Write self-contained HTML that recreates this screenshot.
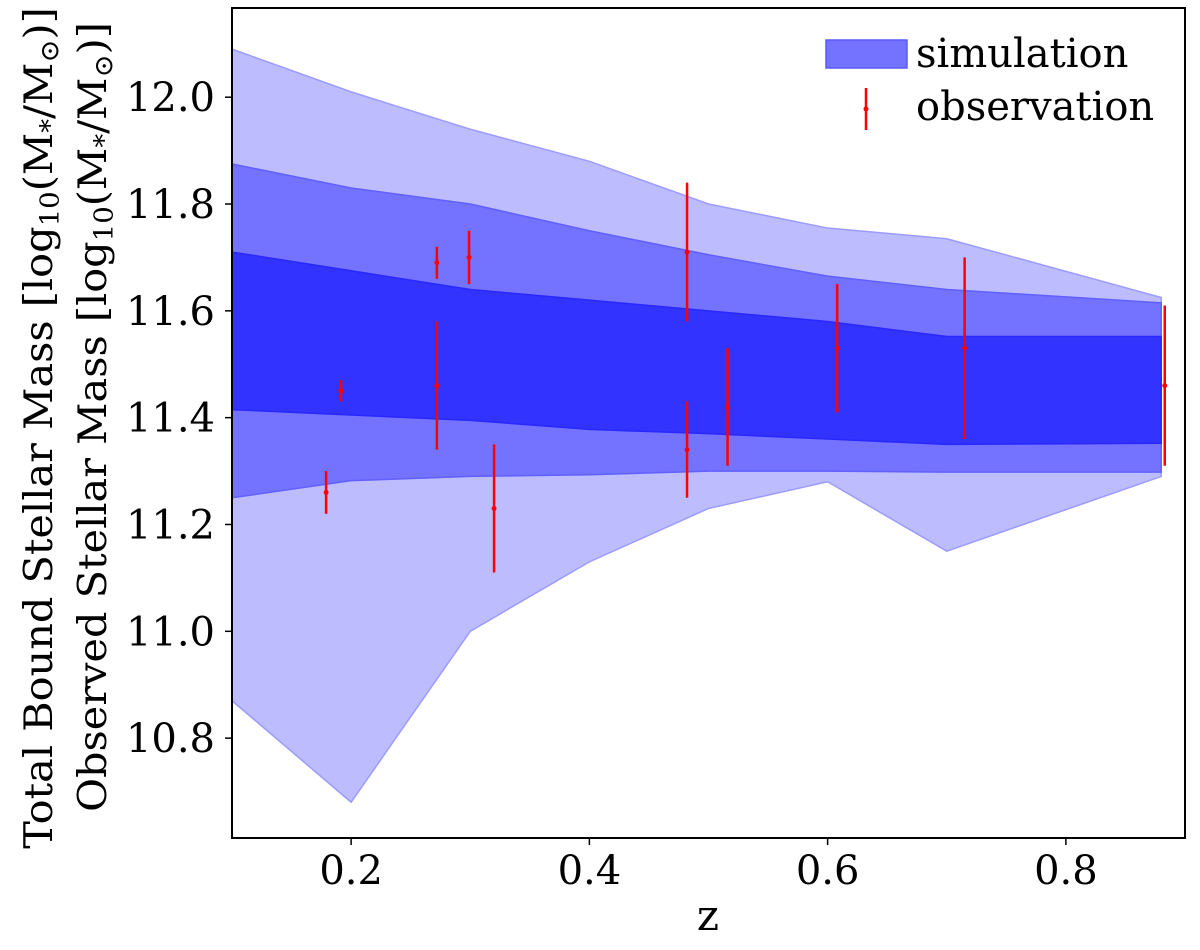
<!DOCTYPE html>
<html><head><meta charset="utf-8"><style>
body{margin:0;background:#fff}
svg text{font-family:"DejaVu Serif","Liberation Serif",serif}
</style></head><body>
<svg id="c" width="1200" height="945" xmlns="http://www.w3.org/2000/svg"></svg>
<script>
const bandZ=[0.1,0.2,0.3,0.4,0.5,0.6,0.7,0.88];
const outerHi=[12.09,12.01,11.94,11.88,11.80,11.755,11.735,11.625];
const outerLo=[10.87,10.68,11.00,11.13,11.23,11.28,11.15,11.29];
const midHi=[11.875,11.83,11.80,11.75,11.705,11.665,11.64,11.615];
const midLo=[11.25,11.282,11.29,11.293,11.30,11.30,11.298,11.298];
const inHi=[11.71,11.675,11.64,11.62,11.60,11.58,11.552,11.552];
const inLo=[11.415,11.405,11.395,11.378,11.37,11.36,11.35,11.352];
const obsZ=[0.179,0.1915,0.272,0.272,0.299,0.32,0.482,0.482,0.516,0.608,0.715,0.883];
const obsY=[11.26,11.45,11.69,11.46,11.70,11.23,11.71,11.34,11.42,11.53,11.53,11.46];
const obsErr=[0.04,0.02,0.03,0.12,0.05,0.12,0.13,0.09,0.11,0.12,0.17,0.15];
const xTicks=[0.2,0.4,0.6,0.8];
const yTicks=[10.8,11.0,11.2,11.4,11.6,11.8,12.0];
const L=232,R=1185,T=8,B=838,X0=0.1,X1=0.9,Y0=10.613,Y1=12.167;
const sx=v=>L+(v-X0)/(X1-X0)*(R-L), sy=v=>B-(v-Y0)/(Y1-Y0)*(B-T);
const svg=document.getElementById('c'),NS='http://www.w3.org/2000/svg';
function mk(t,a,p){const e=document.createElementNS(NS,t);for(const k in a)e.setAttribute(k,a[k]);(p||svg).appendChild(e);return e;}
function band(hi,lo,name,fill,edge){
 let pts=bandZ.map((z,i)=>sx(z)+','+sy(hi[i]));
 pts=pts.concat(bandZ.map((z,i)=>sx(z)+','+sy(lo[i])).reverse());
 const p=mk('polygon',{points:pts.join(' '),fill:fill,stroke:edge,'stroke-width':1.5});
 
 
}
band(outerHi,outerLo,'band-outer','#bcbcff','#9c9cff');
band(midHi,midLo,'band-middle','#7373ff','#6060ff');
band(inHi,inLo,'band-inner','#3333ff','#2828ff');
obsZ.forEach((z,i)=>{
 const g=mk('g',{});
 
 
 mk('line',{x1:sx(z),x2:sx(z),y1:sy(obsY[i]-obsErr[i]),y2:sy(obsY[i]+obsErr[i]),stroke:'#f00','stroke-width':2.5},g);
 mk('circle',{cx:sx(z),cy:sy(obsY[i]),r:2.5,fill:'#f00'},g);
});
const fr=mk('rect',{x:L,y:T,width:R-L,height:B-T,fill:'none',stroke:'#000','stroke-width':2});


xTicks.forEach(v=>{
 mk('line',{x1:sx(v),x2:sx(v),y1:B,y2:B+7,stroke:'#000','stroke-width':1.5});
 const t=mk('text',{x:sx(v),y:B+46,'text-anchor':'middle','font-size':40});t.textContent=v.toFixed(1);
 
 
});
yTicks.forEach(v=>{
 mk('line',{x1:L-7,x2:L,y1:sy(v),y2:sy(v),stroke:'#000','stroke-width':1.5});
 const t=mk('text',{x:L-17,y:sy(v)+14,'text-anchor':'end','font-size':40});t.textContent=v.toFixed(1);
 
 
});
</script>
<svg width="1200" height="945" style="position:absolute;left:0;top:0" xmlns="http://www.w3.org/2000/svg">
 <text x="708" y="930" text-anchor="middle" font-size="42" font-family="Liberation Serif,serif">z</text>
 <g font-family="Liberation Serif,serif" font-size="36">
  <text transform="translate(52,428) rotate(-90) scale(1.15,1.1)" text-anchor="middle">Total Bound Stellar Mass [log<tspan font-size="24" dy="6">10</tspan><tspan dy="-6">(M</tspan><tspan font-size="24" dy="6">*</tspan><tspan dy="-6">/M</tspan><tspan font-size="24" dy="6">⊙</tspan><tspan dy="-6">)]</tspan></text>
  <text transform="translate(106,417) rotate(-90) scale(1.15,1.1)" text-anchor="middle">Observed Stellar Mass [log<tspan font-size="24" dy="6">10</tspan><tspan dy="-6">(M</tspan><tspan font-size="24" dy="6">*</tspan><tspan dy="-6">/M</tspan><tspan font-size="24" dy="6">⊙</tspan><tspan dy="-6">)]</tspan></text>
 </g>
 <g>
  <rect x="826" y="40" width="81" height="28" fill="#7373ff" stroke="#5a5aff" stroke-width="1.5"/>
  <text x="916" y="67" font-size="40" font-family="DejaVu Serif,serif">simulation</text>
  <line x1="866" y1="88" x2="866" y2="130" stroke="#f00" stroke-width="2.5"/>
  <circle cx="866" cy="109" r="2.5" fill="#f00"/>
  <text x="916" y="120" font-size="40" font-family="DejaVu Serif,serif">observation</text>
 </g>
</svg>
</body></html>
